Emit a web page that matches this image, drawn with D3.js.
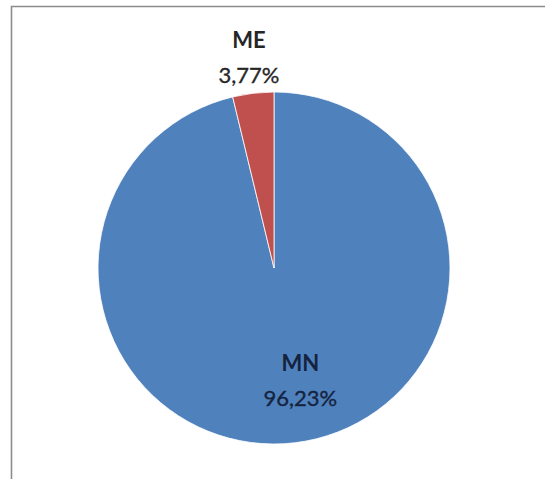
<!DOCTYPE html>
<html>
<head>
<meta charset="utf-8">
<script src="https://cdn.jsdelivr.net/npm/d3@7"></script>
<style>
html,body{margin:0;padding:0;background:#fff;overflow:hidden;}
svg{display:block;}
</style>
</head>
<body>
<svg id="chart" width="545" height="479"></svg>
<script>
const categories = ["MN", "ME"];
const values = [96.23, 3.77];
const valueLabels = ["96,23%", "3,77%"];
const colors = ["#4F81BD", "#C0504D"];

const W = 545, H = 479;
const svg = d3.select("#chart");

// chart area border: only top and left edges are visible in the frame
svg.append("path")
  .attr("d", `M${W},6.5 H11.5 V${H}`)
  .attr("fill", "none")
  .attr("stroke", "#8c8c8c")
  .attr("stroke-width", 1.6);

const cx = 274, cy = 268, R = 176;
const g = svg.append("g").attr("transform", `translate(${cx},${cy})`);

const data = categories.map((c, i) => ({cat: c, value: values[i], label: valueLabels[i], color: colors[i]}));
const pie = d3.pie().sort(null).value(d => d.value).startAngle(0).endAngle(2 * Math.PI);
const arcs = pie(data);
const arc = d3.arc().innerRadius(0).outerRadius(R);

g.selectAll("path.slice").data(arcs).enter().append("path")
  .attr("class", "slice")
  .attr("d", arc)
  .attr("fill", d => d.data.color)
  .attr("stroke", "#fff")
  .attr("stroke-width", 0.8);

// label positions: inside for large slice, outside for small
const insideArc = d3.arc().innerRadius(113).outerRadius(113);
const outsideArc = d3.arc().innerRadius(212).outerRadius(212);

arcs.forEach(d => {
  const big = (d.endAngle - d.startAngle) > Math.PI;
  let [x, y] = big ? insideArc.centroid(d) : outsideArc.centroid(d);
  if (big) { x += 13; y += 1; }
  const col = big ? "#15233f" : "#262626";
  const t = g.append("text")
    .attr("text-anchor", "middle")
    .attr("font-family", "Lato, 'Open Sans', sans-serif")
    .attr("font-size", 22)
    .attr("fill", col);
  t.append("tspan").attr("x", x).attr("y", y - 10)
    .attr("font-weight", "bold").text(d.data.cat);
  t.append("tspan").attr("x", x).attr("y", y + 25)
    .attr("stroke", col).attr("stroke-width", 0.35)
    .text(d.data.label);
});
</script>
</body>
</html>
